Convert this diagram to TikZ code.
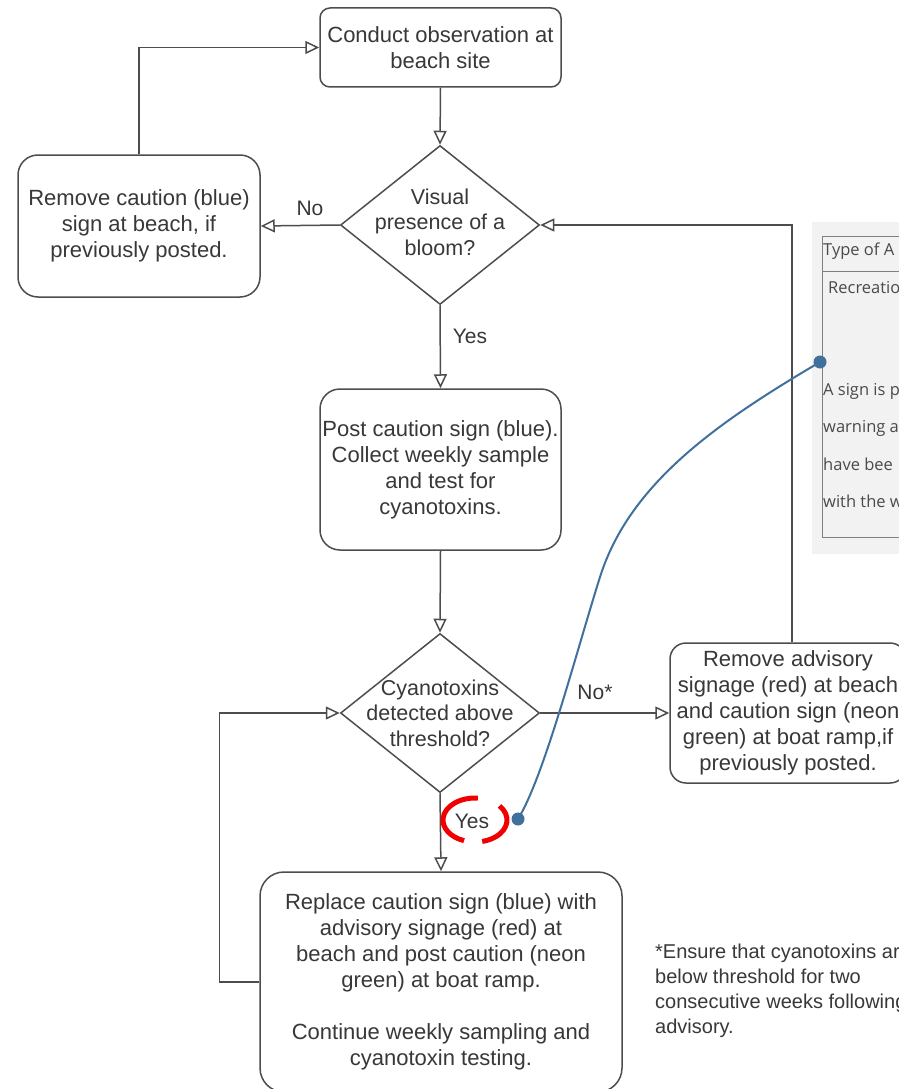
\documentclass[tikz,border=0pt]{standalone}
\usepackage{fontspec}
\setmainfont{Liberation Sans}
\newfontfamily\panelfont{Open Sans}
\usetikzlibrary{shapes.geometric,arrows.meta}
\definecolor{ln}{HTML}{4D4D4D}
\definecolor{tx}{HTML}{383838}
\definecolor{bl}{HTML}{41709C}
\definecolor{rd}{HTML}{F00000}
\definecolor{pg}{HTML}{F2F2F2}
\definecolor{pb}{HTML}{7F7F7F}
\definecolor{pt}{HTML}{4A4A4A}
\begin{document}
\begin{tikzpicture}[x=1pt,y=-1pt,
  box/.style={draw=ln, line width=1.5pt, rounded corners=#1, inner sep=0pt,
    text=tx, align=center, font=\fontsize{22}{26}\selectfont},
  box/.default=18pt,
  dia/.style={diamond, draw=ln, line width=1.5pt, inner sep=0pt,
    minimum width=199pt, minimum height=159pt},
  diatext/.style={text=tx, align=center, inner sep=0pt, font=\fontsize{21.5}{25.5}\selectfont},
  lab/.style={text=tx, inner sep=0pt, font=\fontsize{21}{25}\selectfont},
  conn/.style={draw=ln, line width=1.5pt,
    -{Triangle[open, length=14pt, width=13pt, line width=1.5pt]}},
  paneltext/.style={text=pt, anchor=west, inner sep=0pt, font=\panelfont\fontsize{16.5}{20}\selectfont},
  note/.style={text=tx, anchor=west, align=left, inner sep=0pt, font=\fontsize{20}{25}\selectfont},
  blueline/.style={draw=bl, line width=2pt},
  redarc/.style={draw=rd, line width=5pt}]
\useasboundingbox (0,0) rectangle (899,1089);
\clip (0,0) rectangle (899,1089);
\fill[white] (0,0) rectangle (899,1089);

% flow nodes
\node[box=10pt, minimum width=241pt, minimum height=79pt] (obs) at (440.5,47.5)
  {Conduct observation at\\beach site};
\node[dia] (d1) at (440,225) {};
\node[diatext] (d1t) at (440,222) {Visual\\presence of a\\bloom?};
\node[box=20pt, minimum width=242pt, minimum height=142pt] (rem1) at (139,226)
  {Remove caution (blue)\\sign at beach, if\\previously posted.};
\node[box=20pt, minimum width=241pt, minimum height=161pt] (post) at (440.5,469.5)
  {Post caution sign (blue).\\Collect weekly sample\\and test for\\cyanotoxins.};
\node[dia] (d2) at (440,713) {};
\node[diatext] (d2t) at (440,713) {Cyanotoxins\\detected above\\threshold?};
\node[box=16pt, minimum width=236pt, minimum height=140pt] (rem2) at (788,713)
  {Remove advisory\\signage (red) at beach\\and caution sign (neon\\green) at boat ramp,if\\previously posted.};
\node[box=24pt, minimum width=362pt, minimum height=220pt] (rep) at (441,982)
  {Replace caution sign (blue) with\\advisory signage (red) at\\beach and post caution (neon\\green) at boat ramp.\\[26pt]Continue weekly sampling and\\cyanotoxin testing.};

% connectors
\draw[conn] (obs.south) -- (d1.north);
\draw[conn] (d1.west) -- (rem1.east);
\draw[conn] (rem1.north) |- (obs.west);
\draw[conn] (d1.south) -- (post.north);
\draw[conn] (post.south) -- (d2.north);
\draw[conn] (d2.east) -- (rem2.west);
\draw[conn] ([xshift=4pt]rem2.north) |- (d1.east);
\draw[conn] (d2.south) -- (rep.north);
\draw[conn] (rep.west) -- ++(-40,0) |- (d2.west);

% labels
\node[lab] (lno1) at (310,208) {No};
\node[lab] (lyes1) at (470,336) {Yes};
\node[lab] (lno2) at (595,692) {No*};
\node[lab] (lyes2) at (472,821) {Yes};

% footnote
\node[note] (foot) at (655,991)
  {*Ensure that cyanotoxins are\\below threshold for two\\consecutive weeks following\\advisory.};

% side panel
\fill[pg] (812,222) rectangle (910,554);
\draw[pb, line width=1pt] (822,236) rectangle (915,537);
\draw[pb, line width=1pt] (822,271) -- (915,271);
\node[paneltext] (p1) at (823,251) {Type of A};
\node[paneltext] (p2) at (828,288) {Recreatio};
\node[paneltext] (p3) at (823,391) {A sign is p};
\node[paneltext] (p4) at (823,428) {warning a};
\node[paneltext] (p5) at (823,464) {have bee};
\node[paneltext] (p6) at (823,501) {with the w};

% annotation
\coordinate (yesc) at (475,820);
\draw[redarc] (yesc) ++(-85:32 and 22) arc[start angle=-85, end angle=-250, x radius=32, y radius=22];
\draw[redarc] (yesc) ++(-40:32 and 22) arc[start angle=-40, end angle=77, x radius=32, y radius=22];
\coordinate (blueA) at (820,362);
\coordinate (blueB) at (518,819);
\draw[blueline] (blueA) .. controls (720,421) and (630,482) .. (600,577)
  .. controls (576,653) and (544,777) .. (blueB);
\fill[bl] (blueA) circle[radius=6.5pt];
\fill[bl] (blueB) circle[radius=6.5pt];
\end{tikzpicture}
\end{document}
